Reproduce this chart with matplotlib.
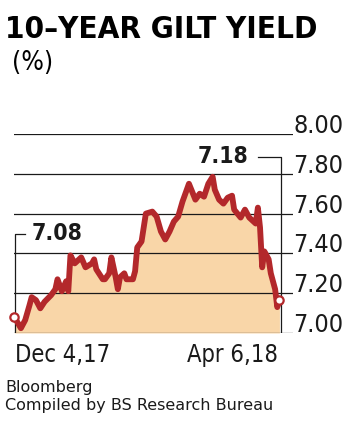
import matplotlib
matplotlib.use("Agg")
import matplotlib.pyplot as plt
import matplotlib.transforms as mtransforms

# days since Dec 4, 2017 and 10-year gilt yield (%)
days = [0, 3, 5, 7, 8, 10, 12, 14, 17, 19, 20, 22, 24, 25, 26, 28, 31, 33, 36, 37,
        38, 41, 42, 44, 45, 47, 48, 49, 51, 52, 55, 56, 57, 59, 61, 64, 66, 68, 70, 72,
        74, 76, 78, 80, 81, 84, 86, 88, 90, 92, 93, 95, 97, 99, 101, 102, 105, 107, 109, 112,
        113, 114, 115, 116, 118, 119, 121, 122, 123]
yields = [7.08, 7.024, 7.065, 7.14, 7.18, 7.165, 7.124, 7.157, 7.19, 7.22, 7.27, 7.21, 7.26, 7.21, 7.39,
          7.35, 7.38, 7.33, 7.35, 7.37, 7.32, 7.27, 7.27, 7.30, 7.38, 7.28, 7.22, 7.28, 7.30, 7.27,
          7.27, 7.31, 7.43, 7.46, 7.60, 7.61, 7.585, 7.51, 7.47, 7.51, 7.56, 7.585, 7.66, 7.72, 7.75,
          7.67, 7.70, 7.685, 7.75, 7.785, 7.72, 7.67, 7.65, 7.68, 7.69, 7.62, 7.58, 7.62, 7.58, 7.55,
          7.63, 7.53, 7.33, 7.41, 7.37, 7.30, 7.22, 7.13, 7.165]
y_ticks = [7.00, 7.20, 7.40, 7.60, 7.80, 8.00]
x_labels = ["Dec 4,17", "Apr 6,18"]
ann_left = "7.08"
ann_right = "7.18"

RED = "#B3282B"
FILL = "#F9D6A8"
FAM = ["DejaVu Sans"]
COND = "condensed"

fig = plt.figure(figsize=(3.52, 4.24), dpi=100)
ax = fig.add_axes([14 / 352, 1 - 333 / 424, (293 - 14) / 352, (333 - 134) / 424])
ax.set_xlim(-0.2, 129.3)
ax.set_ylim(7.0, 8.0)
ax.axis("off")

ax.fill_between(days, yields, 7.0, color=FILL, lw=0, zorder=1)
for t in y_ticks:
    ax.axhline(t, color="#1a1a1a", lw=0.9, zorder=2)
ax.plot(days, yields, color=RED, lw=4.2, solid_joinstyle="round",
        solid_capstyle="round", zorder=3, clip_on=False)
ax.plot([days[0], days[-1]], [yields[0], yields[-1]], "o", ms=6, mfc="white",
        mec=RED, mew=1.6, zorder=4, clip_on=False)

# right-hand tick labels sitting on the gridlines
tr = mtransforms.blended_transform_factory(ax.transAxes, ax.transData)
for t in y_ticks:
    ax.text(1.002, t + 0.005, f"{t:.2f}", transform=tr, ha="left", va="baseline",
            fontsize=18, family=FAM, fontstretch=COND, color="#1a1a1a")

# bracket annotations
ax.plot([0.3, 0.3, 5], [7.0, 7.50, 7.50], color="#1a1a1a", lw=0.9, zorder=2)
ax.text(8, 7.50, ann_left, ha="left", va="center", fontsize=16.5,
        fontweight="bold", family=FAM, fontstretch=COND, color="#1a1a1a")
ax.plot([113, 123.8, 123.8], [7.886, 7.886, 7.0], color="#1a1a1a", lw=0.9, zorder=2)
ax.text(108.4, 7.886, ann_right, ha="right", va="center", fontsize=16.5,
        fontweight="bold", family=FAM, fontstretch=COND, color="#1a1a1a")

# x labels
fig.text(15 / 352, 1 - 362 / 424, x_labels[0], ha="left", va="baseline",
         fontsize=17, family=FAM, fontstretch=COND, color="#1a1a1a")
fig.text(278 / 352, 1 - 362 / 424, x_labels[1], ha="right", va="baseline",
         fontsize=17, family=FAM, fontstretch=COND, color="#1a1a1a")

# title block
fig.text(5 / 352, 1 - 38 / 424, "10–YEAR GILT YIELD", ha="left", va="baseline",
         fontsize=22.5, fontweight="bold", family=FAM, fontstretch=COND, color="black")
fig.text(12 / 352, 1 - 70 / 424, "(%)", ha="left", va="baseline",
         fontsize=19, family=FAM, fontstretch=COND, color="black")

# source
fig.text(5 / 352, 1 - 392 / 424, "Bloomberg", ha="left", va="baseline",
         fontsize=11.5, family=FAM, color="#1a1a1a")
fig.text(5 / 352, 1 - 410 / 424, "Compiled by BS Research Bureau", ha="left",
         va="baseline", fontsize=11.5, family=FAM, color="#1a1a1a")

fig.savefig("out.png", dpi=100)
